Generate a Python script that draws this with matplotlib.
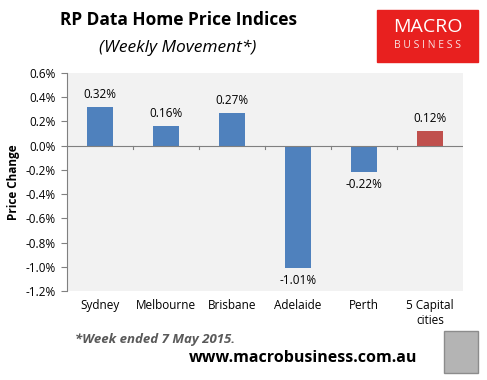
import matplotlib.pyplot as plt
from matplotlib.patches import Rectangle
from matplotlib.ticker import FuncFormatter

cities = ["Sydney", "Melbourne", "Brisbane", "Adelaide", "Perth", "5 Capital\ncities"]
changes = [0.32, 0.16, 0.27, -1.01, -0.22, 0.12]
labels = ["0.32%", "0.16%", "0.27%", "-1.01%", "-0.22%", "0.12%"]
bar_colors = ["#4F81BD"] * 5 + ["#C0504D"]
yticks = [0.6, 0.4, 0.2, 0.0, -0.2, -0.4, -0.6, -0.8, -1.0, -1.2]

plt.rcParams['font.family'] = ['Open Sans', 'DejaVu Sans']

fig = plt.figure(figsize=(4.87, 3.8), dpi=100)
ax = fig.add_axes([67 / 487, 1 - 291 / 380, 396 / 487, 218 / 380])
ax.set_facecolor("#F2F2F2")

x = list(range(len(cities)))
ax.bar(x, changes, width=0.38, color=bar_colors, zorder=3)

# 数值标签
for xi, v, lab in zip(x, changes, labels):
    if v >= 0:
        ax.text(xi, v + 0.05, lab, ha="center", va="bottom", fontsize=8.5)
    else:
        ax.text(xi, v - 0.05, lab, ha="center", va="top", fontsize=8.5)

ax.set_xlim(-0.5, len(cities) - 0.5)
ax.set_ylim(-1.2, 0.6)
ax.set_yticks(yticks)
ax.yaxis.set_major_formatter(FuncFormatter(lambda v, p: f"{v:.1f}%"))
ax.tick_params(axis="y", labelsize=8.5, length=4, color="#808080", pad=4)

# 零线和类别刻度
ax.axhline(0, color="#808080", lw=0.8, zorder=4)
for b in [0.5, 1.5, 2.5, 3.5, 4.5]:
    ax.plot([b, b], [0, -0.025], color="#808080", lw=0.8, zorder=4, clip_on=False)

ax.set_xticks(x)
ax.set_xticklabels(cities, fontsize=8.5)
ax.tick_params(axis="x", length=0, pad=6)

for s in ["top", "right", "bottom"]:
    ax.spines[s].set_visible(False)
ax.spines["left"].set_color("#808080")
ax.spines["left"].set_linewidth(0.8)

ax.set_ylabel("Price Change", fontsize=8.5, fontweight="bold", labelpad=4)

fig.text(179 / 487, 1 - 20 / 380, "RP Data Home Price Indices", ha="center", va="center",
         fontsize=12.5, fontweight="bold")
fig.text(178 / 487, 1 - 48 / 380, "(Weekly Movement*)", ha="center", va="center",
         fontsize=12.5, style="italic")

# Macro Business logo
fig.patches.append(Rectangle((377 / 487, 1 - 62 / 380), 101 / 487, 52 / 380,
                             transform=fig.transFigure, color="#E8201F", zorder=1))
fig.text(428 / 487, 1 - 27 / 380, "MACRO", ha="center", va="center", fontsize=14,
         color="white", zorder=2)
fig.text(428 / 487, 1 - 45 / 380, "B U S I N E S S", ha="center", va="center", fontsize=7.5,
         color="#F8E0E0", zorder=2)

fig.text(75 / 487, 1 - 340 / 380, "*Week ended 7 May 2015.", ha="left", va="center",
         fontsize=9.5, fontweight="bold", style="italic", color="#595959")
fig.text(303 / 487, 1 - 358 / 380, "www.macrobusiness.com.au", ha="center", va="center",
         fontsize=11.5, fontweight="bold", color="black")

# fox box
fig.patches.append(Rectangle((444 / 487, 1 - 373 / 380), 34 / 487, 42 / 380,
                             transform=fig.transFigure, facecolor="#B4B4B4",
                             edgecolor="#8C8C8C", lw=1))

fig.savefig("out.png", dpi=100)
